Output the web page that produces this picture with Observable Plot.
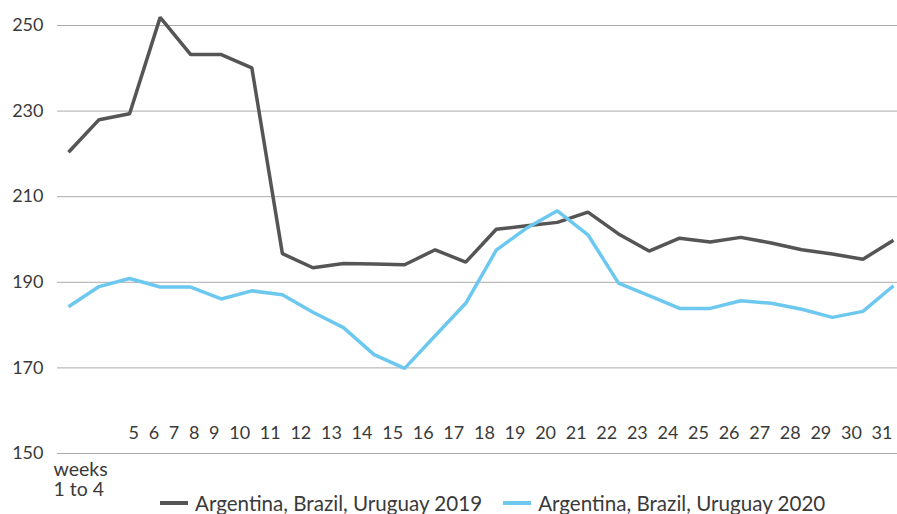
<!DOCTYPE html>
<html>
<head>
<meta charset="utf-8">
<script src="https://cdn.jsdelivr.net/npm/d3@7"></script>
<script src="https://cdn.jsdelivr.net/npm/@observablehq/plot@0.6"></script>
<style>
  html, body { margin: 0; padding: 0; background: #fff; }
  #wrap { position: relative; width: 897px; height: 514px; overflow: hidden; }
  #chart svg { display: block; }
  .legend { position: absolute; left: 0; top: 496px; display: flex; align-items: center; height: 14px; font-family: Lato, sans-serif; font-size: 20.6px; line-height: 20px; color: #3a3a3a; white-space: nowrap; }
  .item { display: flex; align-items: center; }
  .sw { width: 28px; height: 4px; margin-right: 7px; }
</style>
</head>
<body>
<div id="wrap">
<div id="chart"></div>
<div class="legend">
  <div class="item" id="item0" style="margin-left:160px"><div class="sw" id="sw0"></div><span id="lab0"></span></div>
  <div class="item" id="item1" style="margin-left:21px"><div class="sw" id="sw1"></div><span id="lab1"></span></div>
</div>
</div>
<script>
// Categories (week index 0 = weeks 1 to 4, then weeks 5..31)
const weekLabels = ["weeks\n1 to 4", "5","6","7","8","9","10","11","12","13","14","15","16","17","18","19","20","21","22","23","24","25","26","27","28","29","30","31"];
const seriesNames = ["Argentina, Brazil, Uruguay 2019", "Argentina, Brazil, Uruguay 2020"];
const seriesColors = ["#555555", "#6dc8ef"];
const values2019 = [220.4, 228.0, 229.4, 251.9, 243.2, 243.2, 240.1, 196.7, 193.4, 194.4, 194.3, 194.1, 197.6, 194.7, 202.4, 203.2, 204.0, 206.4, 201.3, 197.3, 200.3, 199.4, 200.5, 199.2, 197.6, 196.6, 195.4, 199.8];
const values2020 = [184.3, 189.0, 190.9, 188.9, 188.9, 186.1, 188.0, 187.1, 183.0, 179.4, 173.1, 169.9, 177.5, 185.1, 197.5, 202.7, 206.7, 201.1, 189.8, 186.9, 183.9, 183.9, 185.7, 185.1, 183.7, 181.8, 183.2, 189.2];
const yTicks = [150, 170, 190, 210, 230, 250];

const data = [];
[values2019, values2020].forEach((vals, s) => {
  vals.forEach((v, i) => data.push({i, week: weekLabels[i], value: v, series: seriesNames[s]}));
});

const firstLabel = [weekLabels[0]];
const restLabel = [weekLabels.slice(1).join(" ")];

const plot = Plot.plot({
  width: 897,
  height: 514,
  marginTop: 25,
  marginBottom: 61,
  marginLeft: 68,
  marginRight: 4,
  style: {fontFamily: "Lato, sans-serif", fontSize: "18px", color: "#3a3a3a", background: "#fff"},
  x: {domain: [0, weekLabels.length - 1], axis: null},
  y: {domain: [150, 250], ticks: yTicks, tickSize: 0, tickPadding: 25, label: null},
  color: {domain: seriesNames, range: seriesColors},
  marks: [
    Plot.ruleY(yTicks, {stroke: "#aaaaaa", strokeWidth: 1, insetLeft: -11, insetRight: -4}),
    Plot.line(data, {x: "i", y: "value", z: "series", stroke: "series", strokeWidth: 3.5, strokeLinejoin: "miter", strokeLinecap: "butt"}),
    Plot.text(restLabel, {text: d => d, frameAnchor: "bottom-right", textAnchor: "end", lineAnchor: "middle", dy: -20, dx: -1, fill: "#3a3a3a", fontSize: 18}),
    Plot.text(firstLabel, {text: d => d, frameAnchor: "bottom-left", textAnchor: "start", lineAnchor: "top", dx: -15, dy: 9, fill: "#3a3a3a", fontSize: 19.5, lineHeight: 1.0})
  ]
});
document.getElementById("chart").appendChild(plot);
d3.select(plot).selectAll("text").filter(function() { return this.textContent.startsWith("5 6"); })
  .style("word-spacing", "5.1px");

seriesNames.forEach((n, k) => {
  document.getElementById("lab" + k).textContent = n;
  document.getElementById("sw" + k).style.background = seriesColors[k];
});
</script>
</body>
</html>
